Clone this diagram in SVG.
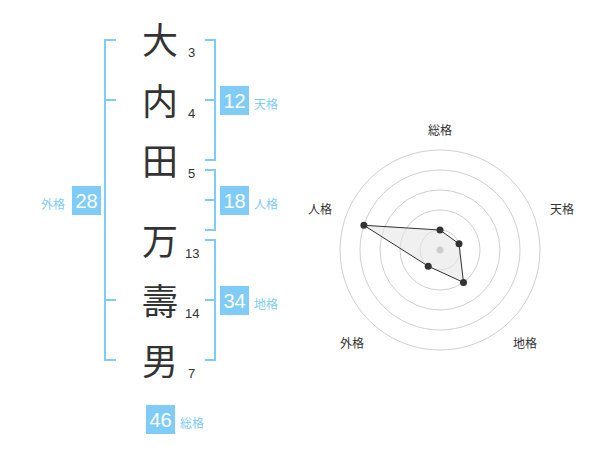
<svg xmlns="http://www.w3.org/2000/svg" width="600" height="470" viewBox="0 0 600 470">
<style>
.kanji{font-family:"Noto Sans CJK JP","Noto Sans CJK SC",sans-serif;font-size:36px;fill:#333;text-anchor:middle}
.stroke{font-family:"Liberation Sans",Arial,sans-serif;font-size:13px;fill:#333}
.br{stroke:#80ccf8;stroke-width:2;fill:none}
.box{fill:#80ccf8}
.num{font-family:"Liberation Sans",Arial,sans-serif;font-size:20px;fill:#fff;text-anchor:middle}
.lbl{font-family:"Noto Sans CJK JP","Noto Sans CJK SC",sans-serif;font-size:12px;fill:#80ccf8}
.ring{fill:none;stroke:#d0d0d0;stroke-width:1}
.axis{font-family:"Noto Sans CJK JP","Noto Sans CJK SC",sans-serif;font-size:12px;fill:#333;text-anchor:middle}
</style>
<rect width="600" height="470" fill="#fff"/>
<g id="chars">
<text class="kanji" x="160" y="54">大</text>
<text class="kanji" x="160" y="115">内</text>
<text class="kanji" x="160" y="175">田</text>
<text class="kanji" x="160" y="255">万</text>
<text class="kanji" x="160" y="315">壽</text>
<text class="kanji" x="160" y="375">男</text>
<text class="stroke" x="188" y="57">3</text>
<text class="stroke" x="188" y="118">4</text>
<text class="stroke" x="188" y="178">5</text>
<text class="stroke" x="185" y="258">13</text>
<text class="stroke" x="185" y="318">14</text>
<text class="stroke" x="188" y="378">7</text>
</g>
<g id="connectors">
<path class="br" d="M116,40 H105 V360 H116 M105,100 H116 M105,300 H116"/>
<path class="br" d="M205,40 H215 V160 H205 M205,100 H215"/>
<path class="br" d="M205,170 H215 V230 H205 M205,200 H215"/>
<path class="br" d="M205,240 H215 V360 H205 M205,300 H215"/>
</g>
<g id="tenkaku">
<rect class="box" x="220" y="86" width="29" height="29"/>
<text class="num" x="234.5" y="108">12</text>
<text class="lbl" x="254" y="109">天格</text>
</g>
<g id="jinkaku">
<rect class="box" x="220" y="186" width="29" height="29"/>
<text class="num" x="234.5" y="208">18</text>
<text class="lbl" x="254" y="209">人格</text>
</g>
<g id="chikaku">
<rect class="box" x="220" y="286" width="29" height="29"/>
<text class="num" x="234.5" y="308">34</text>
<text class="lbl" x="254" y="309">地格</text>
</g>
<g id="gaikaku">
<rect class="box" x="72" y="186" width="29" height="29"/>
<text class="num" x="86.5" y="208">28</text>
<text class="lbl" x="41" y="209">外格</text>
</g>
<g id="soukaku">
<rect class="box" x="146" y="405" width="29" height="29"/>
<text class="num" x="160.5" y="427">46</text>
<text class="lbl" x="180" y="428">総格</text>
</g>
<g id="radar">
<circle class="ring" cx="440" cy="250" r="20"/>
<circle class="ring" cx="440" cy="250" r="40"/>
<circle class="ring" cx="440" cy="250" r="60"/>
<circle class="ring" cx="440" cy="250" r="80"/>
<circle class="ring" cx="440" cy="250" r="100"/>
<polygon points="440,230 459,243.8 463.5,282.4 428.2,266.2 363.9,225.3" fill="#e6e6e6" fill-opacity="0.6" stroke="#333" stroke-width="1"/>
<circle cx="440" cy="250" r="3.5" fill="#ccc"/>
<g fill="#333">
<circle cx="440" cy="230" r="3.5"/>
<circle cx="459" cy="243.8" r="3.5"/>
<circle cx="463.5" cy="282.4" r="3.5"/>
<circle cx="428.2" cy="266.2" r="3.5"/>
<circle cx="363.9" cy="225.3" r="3.5"/>
</g>
<text class="axis" x="440" y="135">総格</text>
<text class="axis" x="562" y="214">天格</text>
<text class="axis" x="320" y="214">人格</text>
<text class="axis" x="352" y="348">外格</text>
<text class="axis" x="525" y="348">地格</text>
</g>
</svg>
